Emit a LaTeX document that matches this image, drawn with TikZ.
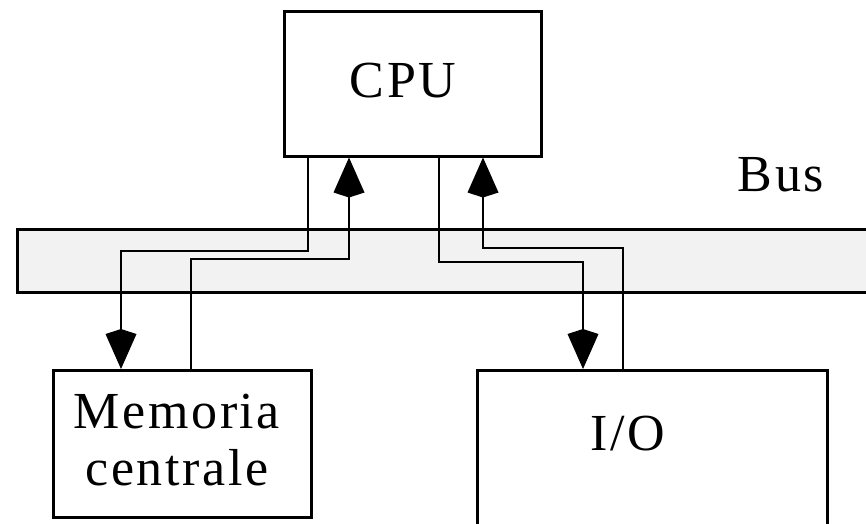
\documentclass[tikz,border=0pt]{standalone}
\usepackage{fontspec}
\setmainfont{Liberation Serif}[LetterSpace=5]
\usetikzlibrary{arrows.meta}
\tikzset{
  blk/.style={draw, line width=2.5pt, rectangle, inner sep=0pt, fill=white},
  lbl/.style={inner sep=0pt, anchor=base, font=\fontsize{52}{57}\selectfont, align=center},
  conn/.style={line width=2.5pt, -{Kite[length=40pt,width=31pt,inset=5pt]}},
}
\begin{document}
\begin{tikzpicture}[x=1pt,y=-1pt]
\useasboundingbox (0,0) rectangle (866,523);
\clip (0,0) rectangle (866,523);
% bus
\node[draw, line width=2.5pt, fill=black!5, minimum width=880pt, minimum height=63pt, inner sep=0pt, anchor=north west] (bus) at (16,228) {};
% boxes
\node[blk, minimum width=257pt, minimum height=145pt, anchor=north west] (cpu) at (283,10) {};
\node[blk, minimum width=258pt, minimum height=147pt, anchor=north west] (mem) at (52,369) {};
\node[blk, minimum width=350pt, minimum height=200pt, anchor=north west] (io) at (476,369) {};
% labels
\node[lbl] (tcpu) at (403,97) {CPU};
\node[lbl] (tbus) at (781,191) {Bus};
\node[lbl] (tmem1) at (177,428) {Memoria};
\node[lbl] (tmem2) at (177,485) {centrale};
\node[lbl] (tio) at (628,450) {I/O};
% connectors
\draw[conn] ([xshift=25pt]cpu.south west) |- (121,251) -- ([xshift=69pt]mem.north west);
\draw[conn] ([xshift=139pt]mem.north west) |- (349,259) -- ([xshift=66pt]cpu.south west);
\draw[conn] ([xshift=156pt]cpu.south west) |- (583,262) -- ([xshift=107pt]io.north west);
\draw[conn] ([xshift=147pt]io.north west) |- (483,248) -- ([xshift=200pt]cpu.south west);
\end{tikzpicture}
\end{document}
